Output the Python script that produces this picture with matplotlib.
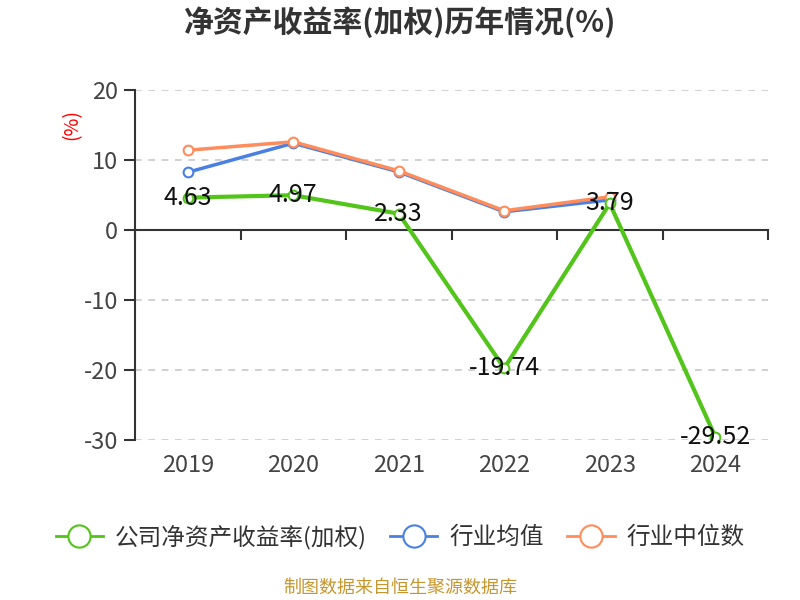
import matplotlib
matplotlib.use("Agg")
import matplotlib.pyplot as plt
from matplotlib.lines import Line2D
import matplotlib.transforms as mtransforms

plt.rcParams['font.family'] = ['Noto Sans CJK SC', 'DejaVu Sans']

years = ['2019', '2020', '2021', '2022', '2023', '2024']
company = [4.63, 4.97, 2.33, -19.74, 3.79, -29.52]
ind_mean = [8.25, 12.4, 8.3, 2.6, 4.3]
ind_median = [11.4, 12.6, 8.45, 2.75, 4.75]
yticks = [20, 10, 0, -10, -20, -30]

c_green = '#52c41a'
c_blue = '#4a80e2'
c_orange = '#ff8c5a'

fig = plt.figure(figsize=(8, 6), dpi=100)
ax = fig.add_axes([135/800, 1-440/600, (768-135)/800, 350/600])

x = list(range(len(years)))
mk = dict(marker='o', markersize=7, markerfacecolor='white', markeredgewidth=1.5)
ax.plot(x[:len(ind_median)], ind_median, color=c_orange, lw=2.5, zorder=3, **mk)
ax.plot(x[:len(ind_mean)], ind_mean, color=c_blue, lw=2.5, zorder=2, **mk)
ax.plot(x, company, color=c_green, lw=3, zorder=4, **mk)

for xi, v in zip(x, company):
    ax.text(xi, v, f'{v:.2f}', ha='center', va='center', fontsize=18,
            color='#111111', zorder=5)

ax.set_xlim(-0.5, len(years) - 0.5)
ax.set_ylim(min(yticks), max(yticks))
ax.set_yticks(yticks)
ax.set_yticklabels([str(t) for t in yticks], fontsize=17, color='#444444')
ax.yaxis.grid(True, linestyle=(0, (4, 4)), color='#c8c8c8', lw=1.2)
ax.set_axisbelow(True)
ax.tick_params(axis='y', length=8, width=1.5, color='#333333', pad=4)

ax.spines['top'].set_visible(False)
ax.spines['right'].set_visible(False)
ax.spines['left'].set_color('#333333')
ax.spines['left'].set_linewidth(1.5)
ax.spines['bottom'].set_position(('data', 0))
ax.spines['bottom'].set_color('#333333')
ax.spines['bottom'].set_linewidth(1.5)
ax.set_xticks([i - 0.5 for i in range(len(years) + 1)])
ax.set_xticklabels([])
ax.tick_params(axis='x', length=7, width=1.5, color='#333333', direction='out')

trans = mtransforms.blended_transform_factory(ax.transData, ax.transAxes) + \
    mtransforms.ScaledTranslation(0, -25/100, fig.dpi_scale_trans)
for xi, yl in zip(x, years):
    ax.text(xi, 0, yl, transform=trans, ha='center', va='center', fontsize=17,
            color='#444444')

fig.text(72/800, 1-125/600, '(%)', rotation=90, color='red', fontsize=14,
         ha='center', va='center')

fig.text(400/800, 1-22/600, '净资产收益率(加权)历年情况(%)', ha='center', va='center',
         fontsize=21.5, fontweight='bold', color='#333333')

handles = [Line2D([0], [0], color=c, lw=2, marker='o', markersize=16,
                  markerfacecolor='white', markeredgewidth=1.5)
           for c in (c_green, c_blue, c_orange)]
labels = ['公司净资产收益率(加权)', '行业均值', '行业中位数']
fig.legend(handles, labels, loc='center', bbox_to_anchor=(0.5, 1-537/600), ncol=3,
           frameon=False, fontsize=17, handlelength=2.0, columnspacing=1.0,
           handletextpad=0.5, labelcolor='#333333')

fig.text(400/800, 1-588/600, '制图数据来自恒生聚源数据库', ha='center', va='center',
         fontsize=13, color='#c8962e')

fig.savefig('out.png', dpi=100)
